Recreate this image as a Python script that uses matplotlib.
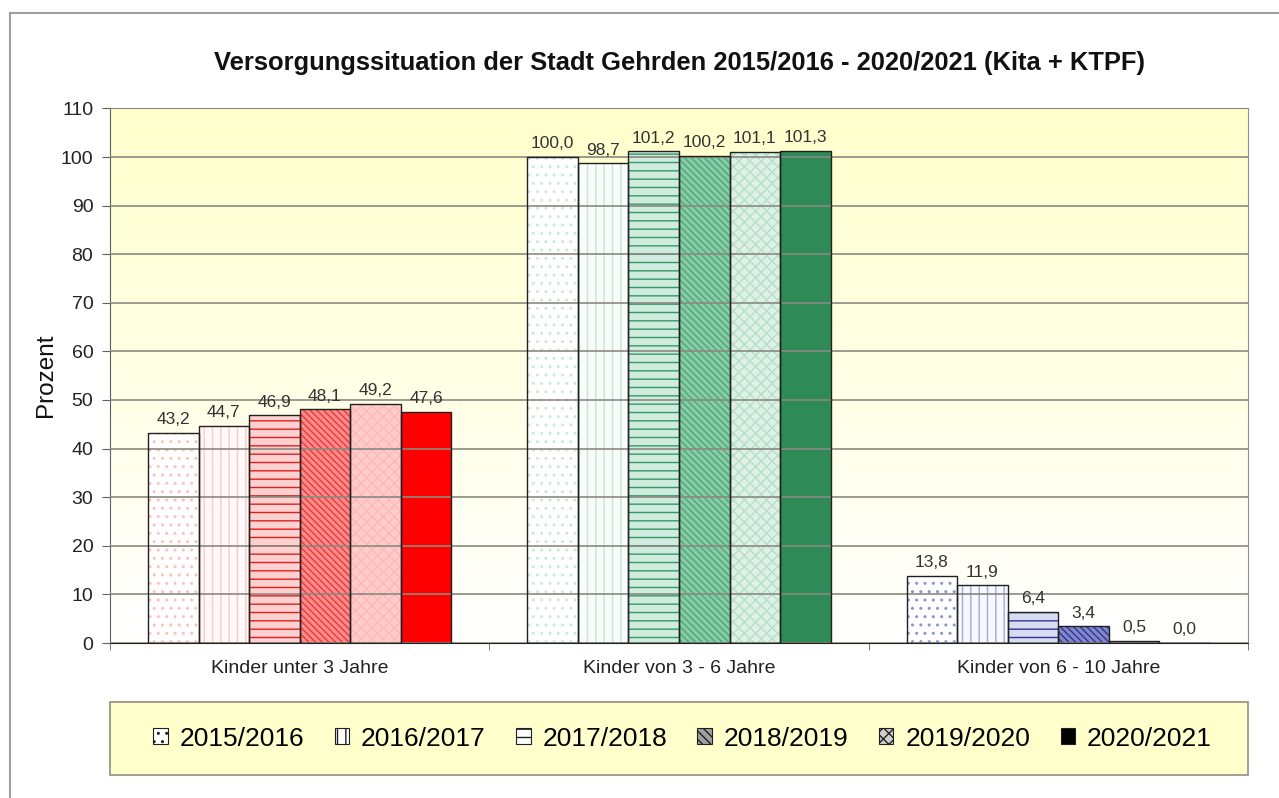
import matplotlib
matplotlib.use("Agg")
import matplotlib.pyplot as plt
import numpy as np
from matplotlib.patches import Rectangle, Patch
from matplotlib.colors import LinearSegmentedColormap

plt.rcParams['font.family'] = ['Liberation Sans', 'DejaVu Sans']

categories = ["Kinder unter 3 Jahre", "Kinder von 3 - 6 Jahre", "Kinder von 6 - 10 Jahre"]
years = ["2015/2016", "2016/2017", "2017/2018", "2018/2019", "2019/2020", "2020/2021"]
values_u3 = [43.2, 44.7, 46.9, 48.1, 49.2, 47.6]
values_3_6 = [100.0, 98.7, 101.2, 100.2, 101.1, 101.3]
values_6_10 = [13.8, 11.9, 6.4, 3.4, 0.5, 0.0]
group_values = [values_u3, values_3_6, values_6_10]
yticks = list(range(0, 111, 10))

# (fill, hatch, hatch colour) per group and year
styles = [
    [("#FFFFFF", "..", "#FFC0C0"), ("#FFF8F8", "||", "#FFC8C8"), ("#FFD0D0", "--", "#E02020"),
     ("#FF8A8A", "\\\\\\\\\\", "#E83A3A"), ("#FFCCCC", "xxx", "#FFB8B8"), ("#FF0000", None, None)],
    [("#FFFFFF", "..", "#D0E8DC"), ("#F8FCFA", "||", "#C8E4D6"), ("#CFEBDD", "--", "#339966"),
     ("#88CCA6", "\\\\\\\\\\", "#4DA67A"), ("#DDF1E6", "xxx", "#B8DEC9"), ("#2E8B57", None, None)],
    [("#FFFFFF", "..", "#8A96CC"), ("#F8F8FF", "||", "#A0AAD8"), ("#D8DCF0", "--", "#333399"),
     ("#8088C8", "\\\\\\\\\\", "#333399"), ("#D0D4EE", "xxx", "#8088C8"), ("#202060", None, None)],
]

fig = plt.figure(figsize=(12.79, 7.98), dpi=100)
ax = fig.add_axes([110/1279, 1-643/798, 1138/1279, (643-108.4)/798])

# gradient background
cmap = LinearSegmentedColormap.from_list("bg", ["#FFFFFF", "#FFFFCC"])
grad = np.linspace(0, 1, 256).reshape(-1, 1)
ax.imshow(grad, cmap=cmap, origin="lower", aspect="auto",
          extent=[-0.5, 2.5, 0, 110], zorder=0)

n = len(years)
width = 0.8 / n
x = np.arange(len(categories))
plt.rcParams['hatch.linewidth'] = 1.0
for gi, vals in enumerate(group_values):
    for yi, v in enumerate(vals):
        fc, hatch, hc = styles[gi][yi]
        xpos = x[gi] - 0.4 + width * (yi + 0.5)
        if hatch:
            ax.bar(xpos, v, width, color=fc, hatch=hatch, edgecolor=hc, linewidth=0, zorder=2)
        else:
            ax.bar(xpos, v, width, color=fc, linewidth=0, zorder=2)
        ax.bar(xpos, v, width, fill=False, edgecolor="#202020", linewidth=1.0, zorder=3)
        ax.annotate(f"{v:.1f}".replace(".", ","), (xpos, v), xytext=(0, 4),
                    textcoords="offset points", ha="center", va="bottom",
                    fontsize=12.5, color="#333333", zorder=4)

ax.set_xlim(-0.5, 2.5)
ax.set_ylim(0, 110)
ax.set_yticks(yticks)
ax.set_yticklabels([str(t) for t in yticks])
ax.yaxis.grid(True, color="#8A8A80", linewidth=1.2, zorder=1)
ax.set_axisbelow(False)
ax.set_xticks(x)
ax.set_xticklabels(categories)
ax.set_xticks([-0.5, 0.5, 1.5, 2.5], minor=True)
ax.tick_params(axis="x", which="major", length=0, pad=12, labelsize=14, labelcolor="#222222")
ax.tick_params(axis="x", which="minor", length=5, color="#606060")
ax.tick_params(axis="y", length=6, color="#606060", labelsize=14, labelcolor="#222222", pad=6)
ax.spines["left"].set_color("#606060")
ax.spines["bottom"].set_color("#202020")
ax.spines["right"].set_color("#909090")
ax.spines["top"].set_color("#909090")
ax.set_ylabel("Prozent", fontsize=17.5, color="#111111")
ax.yaxis.set_label_coords(-0.047, 0.5)

fig.text(680/1279, 1-63/798, "Versorgungssituation der Stadt Gehrden 2015/2016 - 2020/2021 (Kita + KTPF)",
         ha="center", va="center", fontsize=18.4, fontweight="bold", color="#111111")

# legend box
fig.add_artist(Rectangle((110/1279, 1-775/798), 1138/1279, 73/798, transform=fig.transFigure,
                         facecolor="#FFFFCC", edgecolor="#909080", linewidth=1.2, zorder=1))

leg_styles = [("#FFFFFF", "..", "#404040"), ("#FFFFFF", "||", "#404040"), ("#FFFFFF", "--", "#202020"),
              ("#A0A0A0", "\\\\\\\\", "#303030"), ("#D0D0D0", "xxx", "#606060"), ("#000000", None, None)]
handles = []
for yl, (fc, h, hc) in zip(years, leg_styles):
    handles.append(Patch(facecolor=fc, hatch=h, edgecolor="#202020", linewidth=0.8, label=yl))
leg = fig.legend(handles=handles, ncol=6, loc="center",
                 bbox_to_anchor=(140/1279, 1-775/798, 1085/1279, 73/798), mode="expand",
                 borderaxespad=0.0,
                 fontsize=19, frameon=False, handlelength=0.55, handleheight=0.55,
                 handletextpad=0.45, borderpad=0.5, columnspacing=1.0)
leg.set_zorder(2)

# outer chart frame
fig.add_artist(Rectangle((10/1279, -0.2), 1.2, 1.2 - 13/798, transform=fig.transFigure,
                         fill=False, edgecolor="#A0A0A0", linewidth=1.5))

fig.savefig("out.png", dpi=100)
